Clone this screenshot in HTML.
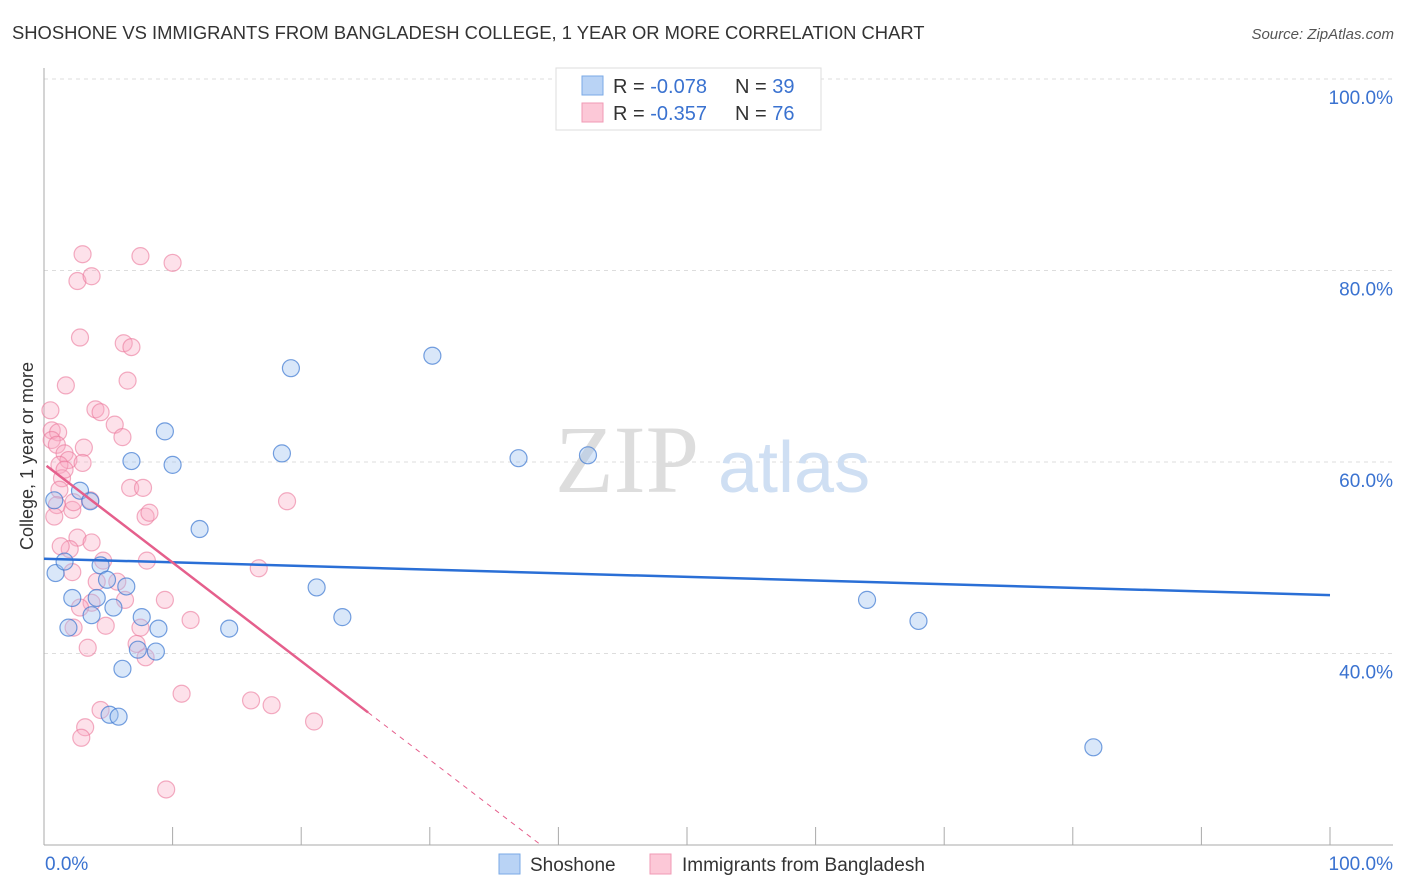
<!DOCTYPE html>
<html><head><meta charset="utf-8">
<style>
body{margin:0;background:#fff;font-family:"Liberation Sans",sans-serif;}
#wrap{position:relative;width:1406px;height:892px;overflow:hidden;}
</style></head>
<body>
<div id="wrap">
<svg id="svg" width="1406" height="892" xmlns="http://www.w3.org/2000/svg">
<text x="12" y="39" font-size="18.4" fill="#333">SHOSHONE VS IMMIGRANTS FROM BANGLADESH COLLEGE, 1 YEAR OR MORE CORRELATION CHART</text>
<text x="1394" y="39" font-size="15" fill="#555" font-style="italic" text-anchor="end">Source: ZipAtlas.com</text>
<text x="33" y="456" font-size="18" fill="#333" text-anchor="middle" transform="rotate(-90 33 456)">College, 1 year or more</text>
<g id="grid"></g>
<text x="555" y="492" font-size="96" fill="#ddd" font-family="Liberation Serif">ZIP</text>
<text x="718" y="492" font-size="72" fill="#cfdff3">atlas</text>
<g id="axes"></g>
<g id="pts"></g>
<g id="trends"></g>
<g>
<rect x="556" y="68" width="265" height="62" fill="#fff" stroke="#ddd"/>
<rect x="582" y="76" width="21" height="19" fill="#b9d3f5" stroke="#7aa9e6"/>
<rect x="582" y="103" width="21" height="19" fill="#fcc8d7" stroke="#f09ab4"/>
<text x="613" y="93" font-size="20" fill="#333">R = <tspan fill="#3a72d0">-0.078</tspan></text>
<text x="735" y="93" font-size="20" fill="#333">N = <tspan fill="#3a72d0">39</tspan></text>
<text x="613" y="120" font-size="20" fill="#333">R = <tspan fill="#3a72d0"> -0.357</tspan></text>
<text x="735" y="120" font-size="20" fill="#333">N = <tspan fill="#3a72d0">76</tspan></text>
</g>
<g>
<rect x="499" y="854" width="21" height="20" fill="#b9d3f5" stroke="#7aa9e6"/>
<text x="530" y="871" font-size="19" fill="#333">Shoshone</text>
<rect x="650" y="854" width="21" height="20" fill="#fcc8d7" stroke="#f09ab4"/>
<text x="682" y="871" font-size="19" fill="#333">Immigrants from Bangladesh</text>
</g>
</svg>
</div>
<script>
const yTicks=[40,60,80,100];
const yTickLabels=["40.0%","60.0%","80.0%","100.0%"];
const xTicks=[0,10,20,30,40,50,60,70,80,90,100];
const blueX=[30.2,19.2,9.4,6.8,10.0,18.5,36.9,42.3,0.8,2.8,3.6,12.1,0.9,1.6,4.4,6.4,4.9,21.2,2.2,4.1,5.4,7.6,23.2,64.0,68.0,1.9,3.7,8.9,14.4,7.3,8.7,6.1,5.1,5.8,81.6];
const blueY=[71.1,69.8,63.2,60.1,59.7,60.9,60.4,60.7,56.0,57.0,55.9,53.0,48.4,49.6,49.2,47.0,47.7,46.9,45.8,45.8,44.8,43.8,43.8,45.6,43.4,42.7,44.0,42.6,42.6,40.4,40.2,38.4,33.6,33.4,30.2];
const pinkX=[3.0,7.5,10.0,2.6,3.7,2.8,6.2,6.8,6.5,1.7,0.5,4.0,4.4,5.5,6.1,0.6,1.1,0.6,1.0,3.1,1.6,1.9,3.0,1.2,1.4,1.2,1.0,2.2,0.8,3.6,6.7,7.7,18.9,7.9,8.2,2.6,3.7,2.0,2.2,4.6,8.0,16.7,4.1,5.7,6.3,9.4,3.7,2.8,4.8,11.4,7.5,2.3,3.4,7.2,7.9,10.7,16.1,17.7,21.0,4.4,3.2,2.9,9.5,1.6,2.3,1.3];
const pinkY=[81.7,81.5,80.8,78.9,79.4,73.0,72.4,72.0,68.5,68.0,65.4,65.5,65.2,63.9,62.6,63.3,63.1,62.3,61.8,61.5,60.9,60.2,59.9,59.7,58.3,57.1,55.5,55.0,54.3,56.0,57.3,57.3,55.9,54.3,54.7,52.1,51.6,50.9,48.5,49.7,49.7,48.9,47.5,47.5,45.6,45.6,45.3,44.8,42.9,43.5,42.7,42.7,40.6,41.0,39.6,35.8,35.1,34.6,32.9,34.1,32.3,31.2,25.8,59.2,55.8,51.2];
const blueTrend=[49.9,46.1];
const pinkTrend=[59.8,-1.03];
const pinkSolidEnd=25.2;

const NS="http://www.w3.org/2000/svg";
const X0=44,X1=1330,Y100=79,PXPER=9.575;
const sx=v=>X0+(X1-X0)*v/100;
const sy=v=>Y100+(100-v)*PXPER;
function mk(tag,attrs,parent){const e=document.createElementNS(NS,tag);for(const k in attrs)e.setAttribute(k,attrs[k]);parent.appendChild(e);return e;}
const grid=document.getElementById('grid'),axes=document.getElementById('axes'),pts=document.getElementById('pts'),tr=document.getElementById('trends');
yTicks.forEach((t,i)=>{
  const l=mk('line',{x1:X0,x2:1393,y1:sy(t),y2:sy(t),stroke:'#ddd','stroke-dasharray':'4,4'},grid);
  
  
  const tx=mk('text',{x:1393,y:sy(t)+25,'font-size':19,fill:'#3a72d0','text-anchor':'end'},axes);
  tx.textContent=yTickLabels[i];
  
  
});
const ya=mk('line',{x1:X0,x2:X0,y1:68,y2:845,stroke:'#aaa'},axes);


const xa=mk('line',{x1:X0,x2:1393,y1:845,y2:845,stroke:'#aaa'},axes);


xTicks.forEach(t=>{
  const l=mk('line',{x1:sx(t),x2:sx(t),y1:827,y2:845,stroke:'#aaa'},axes);
  
  
});
const xl0=mk('text',{x:45,y:870,'font-size':19,fill:'#3a72d0'},axes);xl0.textContent='0.0%';


const xl1=mk('text',{x:1393,y:870,'font-size':19,fill:'#3a72d0','text-anchor':'end'},axes);xl1.textContent='100.0%';


pinkX.forEach((v,i)=>{
  const c=mk('circle',{cx:sx(v),cy:sy(pinkY[i]),r:8.5,fill:'rgba(248,170,195,0.35)',stroke:'rgba(235,120,155,0.6)','stroke-width':1.2},pts);
  
  
});
blueX.forEach((v,i)=>{
  const c=mk('circle',{cx:sx(v),cy:sy(blueY[i]),r:8.5,fill:'rgba(160,195,240,0.4)',stroke:'rgba(60,120,210,0.7)','stroke-width':1.2},pts);
  
  
});
const bl=mk('line',{x1:sx(0),y1:sy(blueTrend[0]),x2:sx(100),y2:sy(blueTrend[1]),stroke:'#2a6fd6','stroke-width':2.5},tr);


const pf=x=>pinkTrend[0]+pinkTrend[1]*x;
const pl=mk('line',{x1:sx(0.2),y1:sy(pf(0.2)),x2:sx(pinkSolidEnd),y2:sy(pf(pinkSolidEnd)),stroke:'#e55f8c','stroke-width':2.5},tr);


const yEnd=100-(845-Y100)/PXPER;
const xz=(yEnd-pinkTrend[0])/pinkTrend[1];
const pd=mk('line',{x1:sx(pinkSolidEnd),y1:sy(pf(pinkSolidEnd)),x2:sx(xz),y2:sy(yEnd),stroke:'#e55f8c','stroke-width':1,'stroke-dasharray':'5,5'},tr);


</script>
</body></html>
